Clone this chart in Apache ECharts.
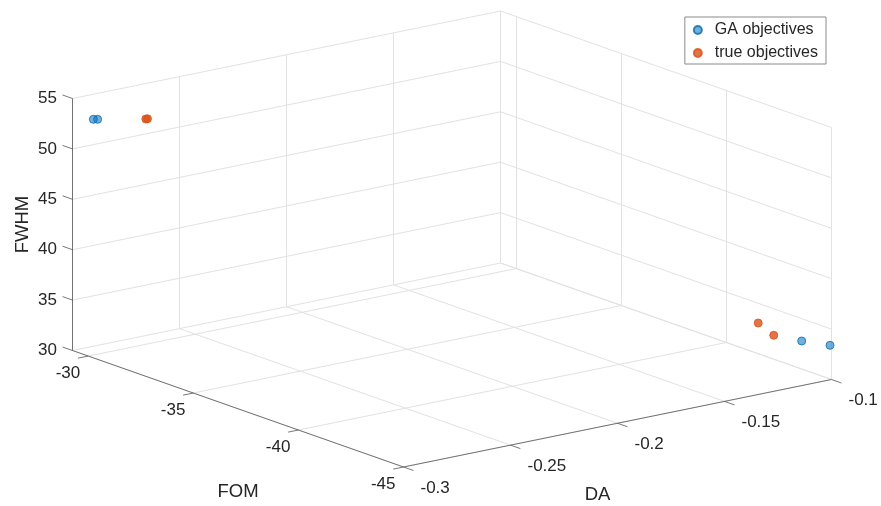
<!DOCTYPE html>
<html>
<head>
<meta charset="utf-8">
<script src="https://cdn.jsdelivr.net/npm/echarts@6/dist/echarts.min.js"></script>
<style>
  html, body { margin: 0; padding: 0; background: #ffffff; }
  #chart { width: 881px; height: 506px; }
</style>
</head>
<body>
<div id="chart"></div>
<script>
// Tick values of the three axes
const daTicks = [-0.3, -0.25, -0.2, -0.15, -0.1];
const fomTicks = [-30, -35, -40, -45];
const fwhmTicks = [30, 35, 40, 45, 50, 55];

// Axis limits
const daRange = [-0.3, -0.1];
const fomRange = [-45, -29.25];
const fwhmRange = [30, 55];

// GA objectives
const gaDA = [-0.298, -0.297, -0.105, -0.1];
const gaFOM = [-30.04, -30.14, -44.09, -44.93];
const gaFWHM = [53.43, 53.46, 33.37, 33.34];

// true objectives
const trueDA = [-0.285, -0.284, -0.115, -0.11];
const trueFOM = [-31.21, -31.19, -43.04, -43.27];
const trueFWHM = [53.75, 53.72, 34.82, 33.55];

// Orthographic view: screen point of the (DA min, FOM max, FWHM min) corner
// and the screen vector spanned by each axis over its full range.
const view = { origin: [72.5, 350.5], da: [428, -87.5], fom: [331, 116.5], fwhm: [0, -252] };

function project(da, fom, z) {
  const u = (da - daRange[0]) / (daRange[1] - daRange[0]);
  const v = (fomRange[1] - fom) / (fomRange[1] - fomRange[0]);
  const w = (z - fwhmRange[0]) / (fwhmRange[1] - fwhmRange[0]);
  return [
    view.origin[0] + u * view.da[0] + v * view.fom[0] + w * view.fwhm[0],
    view.origin[1] + u * view.da[1] + v * view.fom[1] + w * view.fwhm[1]
  ];
}

const daMin = daRange[0], daMax = daRange[1];
const fomMin = fomRange[0], fomMax = fomRange[1];
const zMin = fwhmRange[0], zMax = fwhmRange[1];
const fomSpan = fomMax - fomMin, daSpan = daMax - daMin;

// Grid lines on the back wall, right wall and floor
const gridSegs = [];
fwhmTicks.forEach(z => {
  gridSegs.push([project(daMin, fomMax, z), project(daMax, fomMax, z)]);
  gridSegs.push([project(daMax, fomMax, z), project(daMax, fomMin, z)]);
});
daTicks.forEach(d => {
  gridSegs.push([project(d, fomMax, zMin), project(d, fomMax, zMax)]);
  gridSegs.push([project(d, fomMax, zMin), project(d, fomMin, zMin)]);
});
fomTicks.forEach(f => {
  gridSegs.push([project(daMax, f, zMin), project(daMax, f, zMax)]);
  gridSegs.push([project(daMin, f, zMin), project(daMax, f, zMin)]);
});

// Axis lines and tick marks
const axisSegs = [
  [project(daMin, fomMax, zMin), project(daMin, fomMax, zMax)],
  [project(daMin, fomMax, zMin), project(daMin, fomMin, zMin)],
  [project(daMin, fomMin, zMin), project(daMax, fomMin, zMin)]
];
const tickFrac = 0.03;
fwhmTicks.forEach(z => axisSegs.push([project(daMin, fomMax, z), project(daMin, fomMax + tickFrac * fomSpan, z)]));
fomTicks.forEach(f => axisSegs.push([project(daMin, f, zMin), project(daMin - 0.024 * daSpan, f, zMin)]));
daTicks.forEach(d => axisSegs.push([project(d, fomMin, zMin), project(d, fomMin - tickFrac * fomSpan, zMin)]));

// Tick labels and axis titles
const FONT = '"Liberation Sans", Arial, Helvetica, sans-serif';
const TICK_SIZE = 17;
const labels = [];
fwhmTicks.forEach(z => {
  const p = project(daMin, fomMax, z);
  labels.push({ p: [p[0] - 15.5, p[1]], text: String(z), align: 'right', size: TICK_SIZE });
});
fomTicks.forEach(f => {
  const p = project(daMin, f, zMin);
  labels.push({ p: [p[0] - 8, p[1] + 17.5], text: String(f), align: 'right', size: TICK_SIZE });
});
daTicks.forEach(d => {
  const p = project(d, fomMin, zMin);
  labels.push({ p: [p[0] + 17, p[1] + 21], text: String(d), align: 'left', size: TICK_SIZE });
});
{
  const zMid = project(daMin, fomMax, (zMin + zMax) / 2);
  labels.push({ p: [zMid[0] - 50, zMid[1]], text: 'FWHM', align: 'center', size: 18.5, rot: Math.PI / 2 });
  const fMid = project(daMin, (fomMin + fomMax) / 2, zMin);
  labels.push({ p: [fMid[0], fMid[1] + 83], text: 'FOM', align: 'center', size: 18.5 });
  const dMid = project((daMin + daMax) / 2, fomMin, zMin);
  labels.push({ p: [dMid[0] - 20, dMid[1] + 72], text: 'DA', align: 'center', size: 18.5 });
}

const gaPts = gaDA.map((d, i) => project(d, gaFOM[i], gaFWHM[i]));
const truePts = trueDA.map((d, i) => project(d, trueFOM[i], trueFWHM[i]));

const chart = echarts.init(document.getElementById('chart'), null, { renderer: 'canvas' });
chart.setOption({
  animation: false,
  backgroundColor: '#ffffff',
  grid: { left: 0, right: 0, top: 0, bottom: 0, containLabel: false },
  xAxis: { type: 'value', min: 0, max: 881, show: false },
  yAxis: { type: 'value', min: 0, max: 506, inverse: true, show: false },
  legend: {
    data: ['GA objectives', 'true objectives'],
    orient: 'vertical',
    right: 55,
    top: 17,
    padding: [5, 8, 3, 8],
    itemWidth: 24,
    itemHeight: 8,
    itemGap: 7,
    borderColor: '#8a8a8a',
    borderWidth: 1,
    backgroundColor: '#ffffff',
    textStyle: { fontFamily: FONT, fontSize: 16, color: '#262626' }
  },
  series: [
    {
      type: 'lines', coordinateSystem: 'cartesian2d', silent: true, z: 1,
      lineStyle: { color: '#e2e2e2', width: 1, opacity: 1 },
      data: gridSegs.map(s => ({ coords: s }))
    },
    {
      type: 'lines', coordinateSystem: 'cartesian2d', silent: true, z: 2,
      lineStyle: { color: '#555555', width: 0.8, opacity: 1 },
      data: axisSegs.map(s => ({ coords: s }))
    },
    {
      type: 'custom', coordinateSystem: 'cartesian2d', silent: true, z: 3,
      data: labels.map(l => l.p),
      renderItem: (params, api) => {
        const l = labels[params.dataIndex];
        const c = api.coord([api.value(0), api.value(1)]);
        return {
          type: 'text', x: c[0], y: c[1], rotation: l.rot || 0,
          style: { text: l.text, fill: '#262626', font: l.size + 'px ' + FONT, align: l.align, verticalAlign: 'middle' }
        };
      }
    },
    {
      name: 'GA objectives', type: 'scatter', z: 4, symbol: 'circle', symbolSize: 8,
      itemStyle: { color: 'rgba(0,114,189,0.7)', borderColor: '#0b6aad', borderWidth: 1 },
      data: gaPts
    },
    {
      name: 'true objectives', type: 'scatter', z: 4, symbol: 'circle', symbolSize: 8,
      itemStyle: { color: '#D95319', borderColor: '#D95319', borderWidth: 1 },
      data: truePts
    }
  ]
});
</script>
</body>
</html>
